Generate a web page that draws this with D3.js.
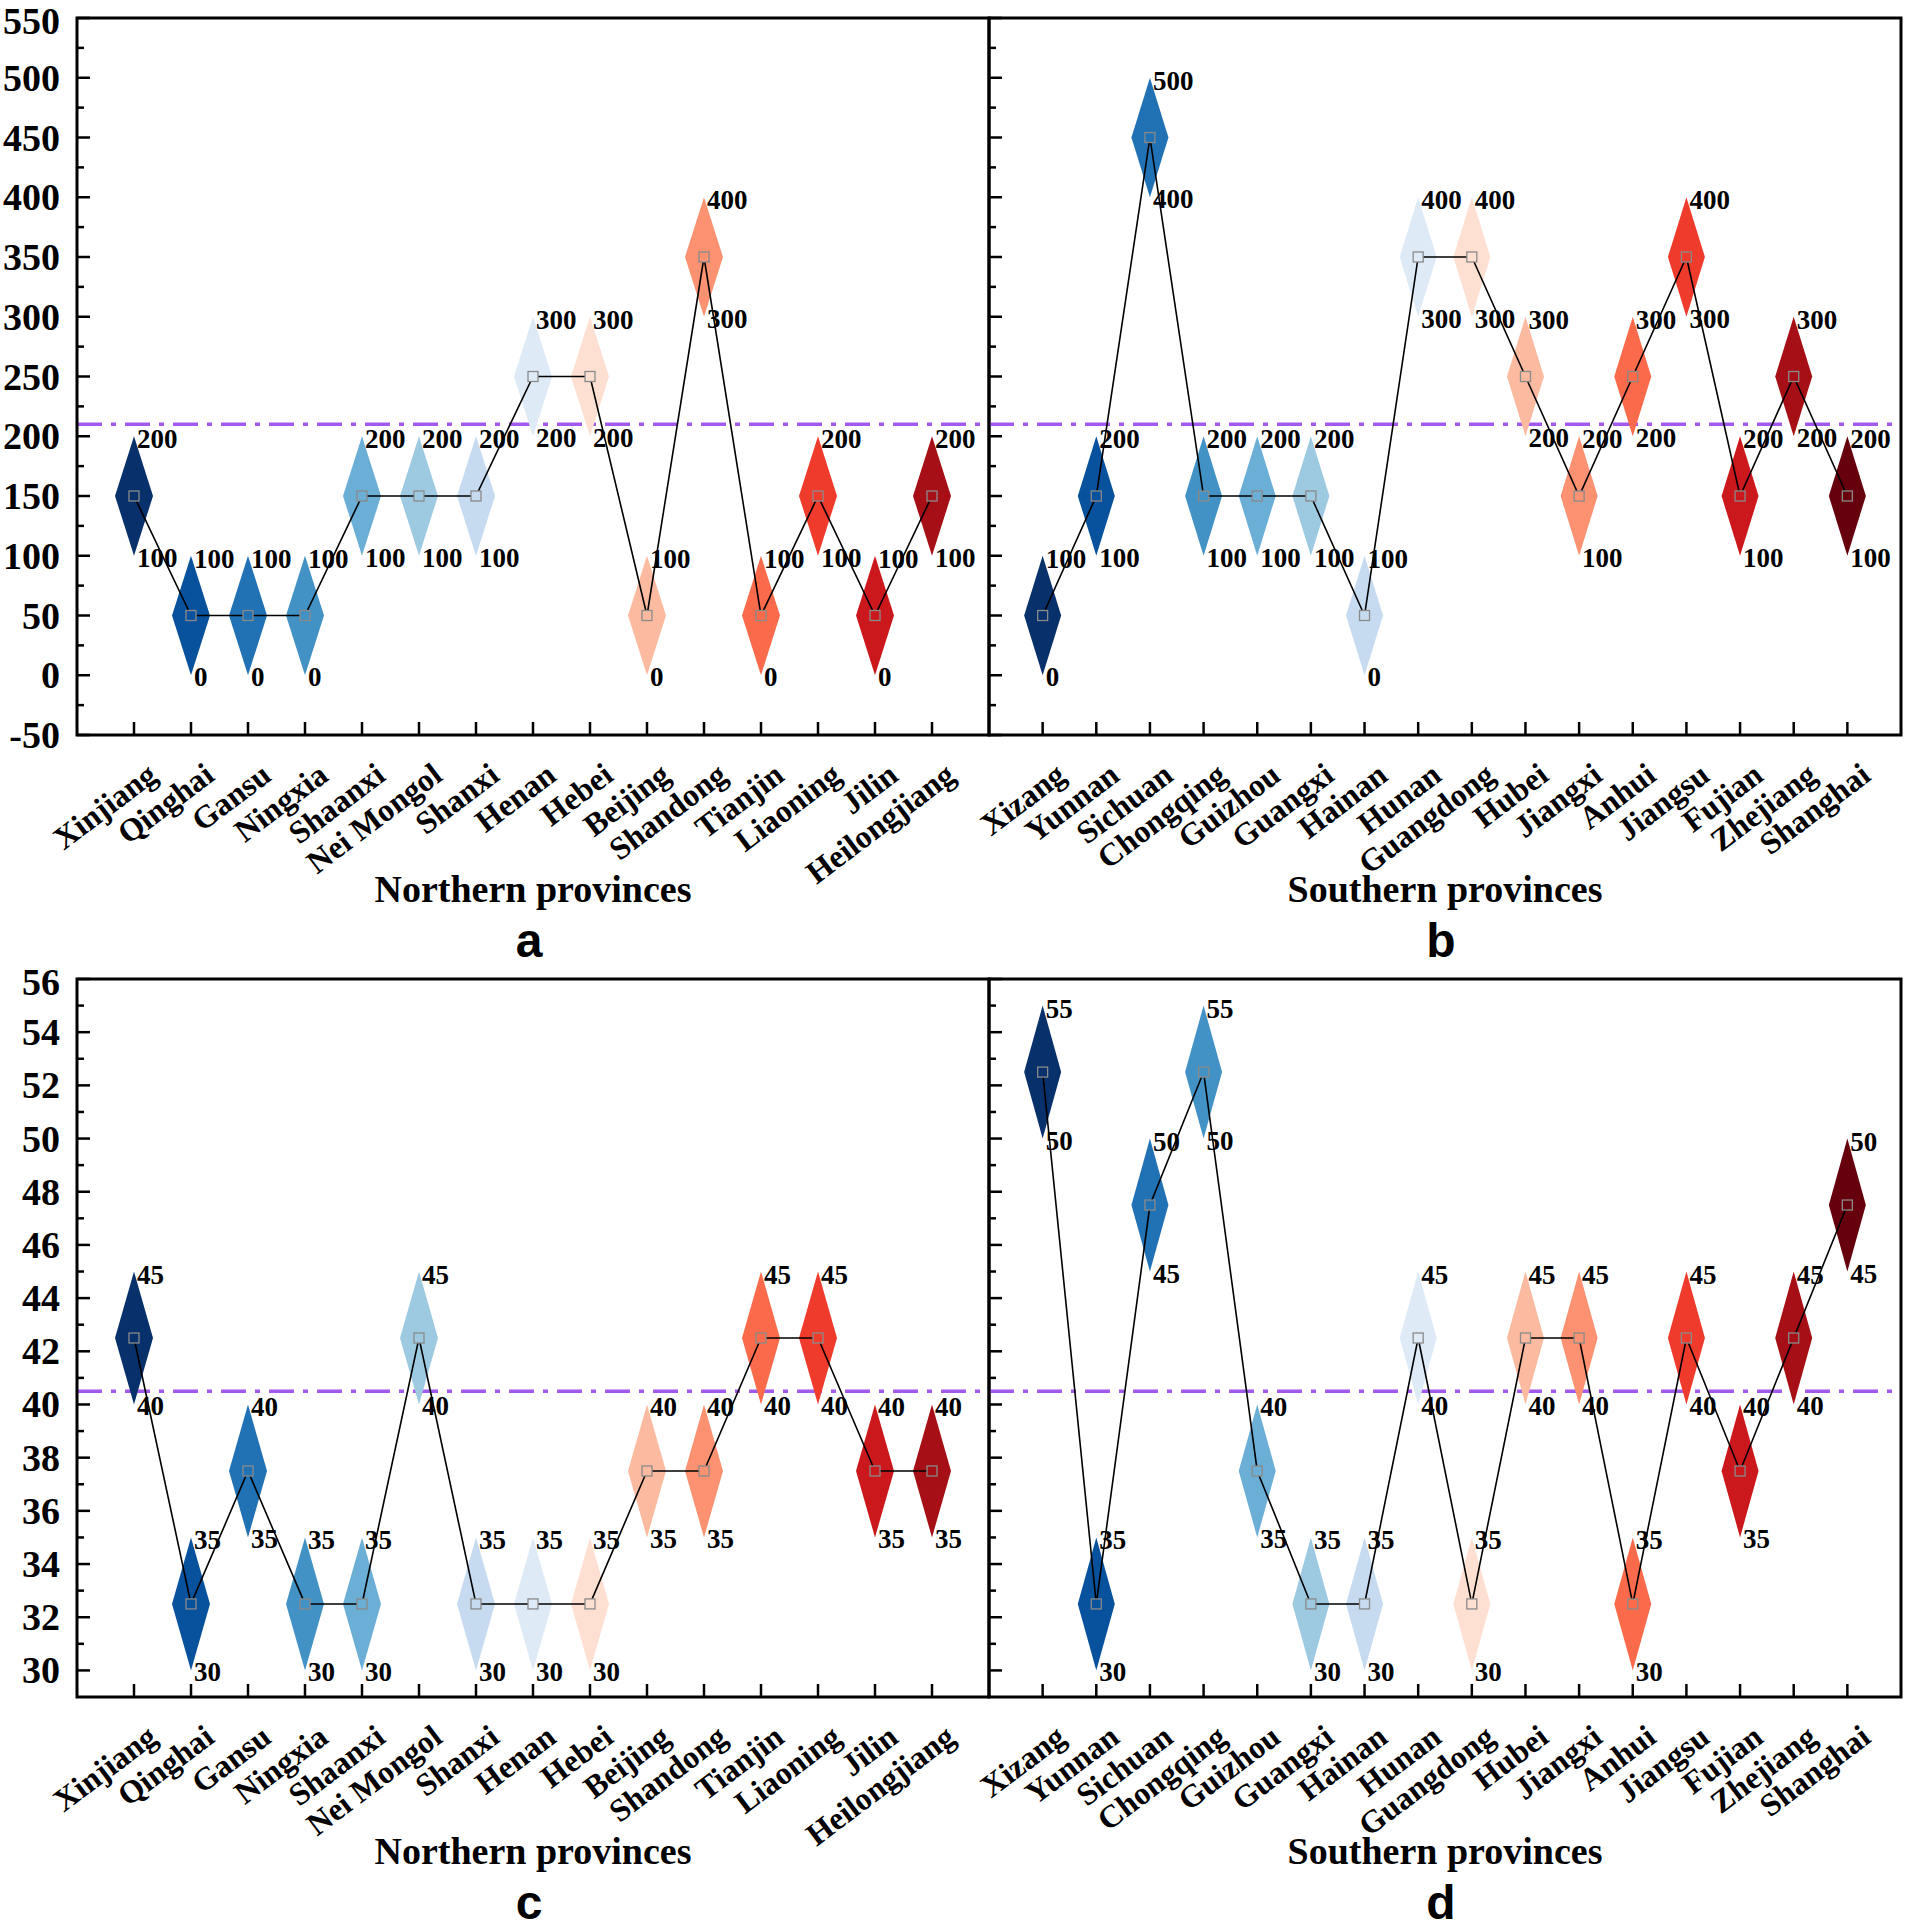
<!DOCTYPE html>
<html>
<head>
<meta charset="utf-8">
<script src="https://cdn.jsdelivr.net/npm/d3@7"></script>
<style>
  body { margin: 0; background: #fff; }
  svg text { font-family: "Liberation Serif", "Times New Roman", serif; font-weight: bold; fill: #000; }
</style>
</head>
<body>
<svg id="chart"></svg>
<script>
// provinces
const northProv = ["Xinjiang","Qinghai","Gansu","Ningxia","Shaanxi","Nei Mongol","Shanxi","Henan","Hebei","Beijing","Shandong","Tianjin","Liaoning","Jilin","Heilongjiang"];
const southProv = ["Xizang","Yunnan","Sichuan","Chongqing","Guizhou","Guangxi","Hainan","Hunan","Guangdong","Hubei","Jiangxi","Anhui","Jiangsu","Fujian","Zhejiang","Shanghai"];

// panel a / b  (range low - high)
const aLow  = [100,0,0,0,100,100,100,200,200,0,300,0,100,0,100];
const aHigh = [200,100,100,100,200,200,200,300,300,100,400,100,200,100,200];
const bLow  = [0,100,400,100,100,100,0,300,300,200,100,200,300,100,200,100];
const bHigh = [100,200,500,200,200,200,100,400,400,300,200,300,400,200,300,200];

// panel c / d
const cLow  = [40,30,35,30,30,40,30,30,30,35,35,40,40,35,35];
const cHigh = [45,35,40,35,35,45,35,35,35,40,40,45,45,40,40];
const dLow  = [50,30,45,50,35,30,30,40,30,40,40,30,40,35,40,45];
const dHigh = [55,35,50,55,40,35,35,45,35,45,45,35,45,40,45,50];

// axes
const topTicks = [-50,0,50,100,150,200,250,300,350,400,450,500,550];
const topMinor = [-25,25,75,125,175,225,275,325,375,425,475,525];
const botTicks = [30,32,34,36,38,40,42,44,46,48,50,52,54,56];
const botMinor = [31,33,35,37,39,41,43,45,47,49,51,53,55];
const topRef = 210, botRef = 40.5;

const palette = ["#08306b","#08519c","#2171b5","#4292c6","#6baed6","#9ecae1","#c6dbef","#deebf7",
                 "#fee0d2","#fcbba1","#fc9272","#fb6a4a","#ef3b2c","#cb181d","#a50f15","#67000d"];

const width = 1907, height = 1931;
const svg = d3.select("#chart").attr("width", width).attr("height", height);

function panel(cfg){
  const x = d3.scaleLinear().domain([0, cfg.names.length + 1]).range([cfg.x0, cfg.x1]);
  const y = d3.scaleLinear().domain(cfg.yDomain).range([cfg.y1, cfg.y0]);
  const g = svg.append("g");
  const data = cfg.names.map((n,i) => ({name:n, i:i+1, lo:cfg.lo[i], hi:cfg.hi[i], mid:(cfg.lo[i]+cfg.hi[i])/2, color:palette[i]}));
  const hw = cfg.hw;

  // reference line
  g.append("line")
    .attr("x1", cfg.x0).attr("x2", cfg.x1)
    .attr("y1", y(cfg.ref)).attr("y2", y(cfg.ref))
    .attr("stroke", "#a259ec").attr("stroke-width", 3.5)
    .attr("stroke-dasharray", "25,9,5,9");

  // diamonds
  g.selectAll(".dia").data(data).join("path")
    .attr("d", d => `M${x(d.i)},${y(d.hi)} L${x(d.i)+hw},${y(d.mid)} L${x(d.i)},${y(d.lo)} L${x(d.i)-hw},${y(d.mid)} Z`)
    .attr("fill", d => d.color);

  // connecting line
  g.append("path")
    .datum(data)
    .attr("d", d3.line().x(d => x(d.i)).y(d => y(d.mid)))
    .attr("fill", "none").attr("stroke", "#000").attr("stroke-width", 1.6);

  g.selectAll(".sq").data(data).join("rect")
    .attr("x", d => x(d.i) - 5).attr("y", d => y(d.mid) - 5)
    .attr("width", 10).attr("height", 10)
    .attr("fill", d => d.color).attr("stroke", "#8a8a8a").attr("stroke-width", 1.3);

  // value labels
  g.selectAll(".hiL").data(data).join("text")
    .attr("x", d => x(d.i) + 3).attr("y", d => y(d.hi) + 3)
    .attr("dominant-baseline", "central").style("font-size", "27px")
    .text(d => d.hi);
  g.selectAll(".loL").data(data).join("text")
    .attr("x", d => x(d.i) + 3).attr("y", d => y(d.lo) + 2)
    .attr("dominant-baseline", "central").style("font-size", "27px")
    .text(d => d.lo);

  // frame
  g.append("rect")
    .attr("x", cfg.x0).attr("y", cfg.y0)
    .attr("width", cfg.x1 - cfg.x0).attr("height", cfg.y1 - cfg.y0)
    .attr("fill", "none").attr("stroke", "#000").attr("stroke-width", 3);

  // y ticks (inward)
  g.selectAll(".ymaj").data(cfg.major).join("line")
    .attr("x1", cfg.x0).attr("x2", cfg.x0 + 13)
    .attr("y1", d => y(d)).attr("y2", d => y(d))
    .attr("stroke", "#000").attr("stroke-width", 2.5);
  g.selectAll(".ymin").data(cfg.minor).join("line")
    .attr("x1", cfg.x0).attr("x2", cfg.x0 + 7)
    .attr("y1", d => y(d)).attr("y2", d => y(d))
    .attr("stroke", "#000").attr("stroke-width", 2.5);
  if (cfg.yLabels) {
    g.selectAll(".ylab").data(cfg.major).join("text")
      .attr("x", cfg.x0 - 17).attr("y", d => Math.max(y(d), cfg.y0 + 3))
      .attr("text-anchor", "end").attr("dominant-baseline", "central")
      .style("font-size", "38px")
      .text(d => d);
  }

  // x ticks
  g.selectAll(".xt").data(data).join("line")
    .attr("x1", d => x(d.i)).attr("x2", d => x(d.i))
    .attr("y1", cfg.y1).attr("y2", cfg.y1 - 13)
    .attr("stroke", "#000").attr("stroke-width", 2.5);
  g.selectAll(".xlab").data(data).join("text")
    .attr("text-anchor", "end")
    .attr("transform", d => `translate(${x(d.i) + 25},${cfg.y1 + 44}) rotate(-37)`)
    .style("font-size", "32px")
    .text(d => d.name);

  // axis title and letter
  const cx = (cfg.x0 + cfg.x1) / 2;
  g.append("text").attr("x", cx).attr("y", cfg.y1 + 167)
    .attr("text-anchor", "middle").style("font-size", "38px")
    .text(cfg.title);
  g.append("text").attr("x", cx - 4).attr("y", cfg.y1 + 222)
    .attr("text-anchor", "middle")
    .style("font-family", "'Liberation Sans', Arial, sans-serif").style("font-size", "48px")
    .text(cfg.letter);
}

panel({x0:77, x1:989, y0:18, y1:735, names:northProv, lo:aLow, hi:aHigh, hw:19,
       yDomain:[-50,550], major:topTicks, minor:topMinor, ref:topRef, yLabels:true,
       title:"Northern provinces", letter:"a"});
panel({x0:989, x1:1901, y0:18, y1:735, names:southProv, lo:bLow, hi:bHigh, hw:18.5,
       yDomain:[-50,550], major:topTicks, minor:topMinor, ref:topRef, yLabels:false,
       title:"Southern provinces", letter:"b"});
panel({x0:77, x1:989, y0:979, y1:1697, names:northProv, lo:cLow, hi:cHigh, hw:19,
       yDomain:[29,56], major:botTicks, minor:botMinor, ref:botRef, yLabels:true,
       title:"Northern provinces", letter:"c"});
panel({x0:989, x1:1901, y0:979, y1:1697, names:southProv, lo:dLow, hi:dHigh, hw:18.5,
       yDomain:[29,56], major:botTicks, minor:botMinor, ref:botRef, yLabels:false,
       title:"Southern provinces", letter:"d"});
</script>
</body>
</html>
